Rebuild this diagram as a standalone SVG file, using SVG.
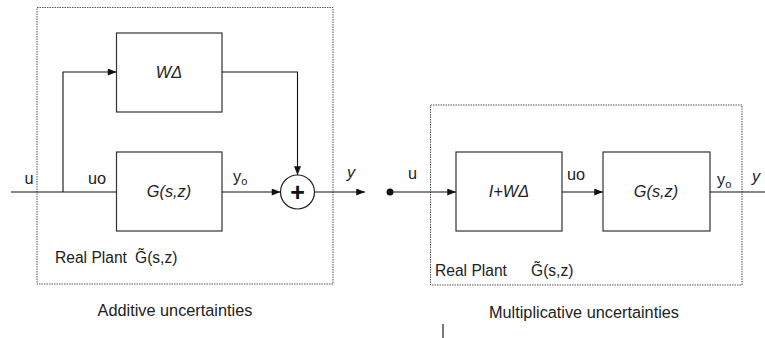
<svg xmlns="http://www.w3.org/2000/svg" width="765" height="338" viewBox="0 0 765 338">
<defs>
<marker id="arr" viewBox="0 0 10 8" refX="10" refY="4" markerWidth="10" markerHeight="7" markerUnits="userSpaceOnUse" orient="auto">
<path d="M0,0 L10,4 L0,8 z" fill="#111"/>
</marker>
</defs>
<style>
.frame{fill:none;stroke:#555;stroke-width:1;stroke-dasharray:1.5,1}
.blk{fill:#fff;stroke:#333;stroke-width:1.2}
.ln{fill:none;stroke:#111;stroke-width:1.1}
.t{font-family:"Liberation Sans",Arial,sans-serif;font-size:16.3px;fill:#222}
.rp{font-size:15.6px}
.it{font-style:italic}
.sub{font-size:11px}
</style>
<rect width="765" height="338" fill="#fff"/>
<g id="additive-frame">
<rect class="frame" x="37" y="7.5" width="296" height="276.5"/>
<text class="t rp" x="55" y="263">Real Plant</text>
<text class="t rp" x="135" y="263">G&#x303;(s,z)</text>
<text class="t" x="175" y="316" text-anchor="middle">Additive uncertainties</text>
</g>
<g id="multiplicative-frame">
<rect class="frame" x="430.5" y="105" width="311.5" height="180"/>
<text class="t rp" x="435" y="276">Real Plant</text>
<text class="t rp" x="531" y="276">G&#x303;(s,z)</text>
<text class="t" x="584" y="318" text-anchor="middle">Multiplicative uncertainties</text>
</g>
<g id="node-wdelta">
<rect class="blk" x="116.5" y="33" width="105.5" height="79"/>
<text class="t it" x="169" y="78" text-anchor="middle">W&#x394;</text>
</g>
<g id="node-g-left">
<rect class="blk" x="116.5" y="152" width="105.5" height="79"/>
<text class="t it" x="169" y="197" text-anchor="middle">G(s,z)</text>
</g>
<g id="node-sum">
<circle cx="297.5" cy="192" r="17" fill="#fff" stroke="#222" stroke-width="1.2"/>
<text x="297.5" y="200.5" text-anchor="middle" style="font-family:'Liberation Sans',Arial,sans-serif;font-size:25px;font-weight:bold;fill:#111">+</text>
</g>
<g id="node-iwdelta">
<rect class="blk" x="456" y="152" width="106" height="79"/>
<text class="t it" x="509" y="197" text-anchor="middle">I+W&#x394;</text>
</g>
<g id="node-g-right">
<rect class="blk" x="603" y="152" width="107" height="79"/>
<text class="t it" x="656" y="197" text-anchor="middle">G(s,z)</text>
</g>
<g id="connectors">
<line class="ln" x1="11" y1="192" x2="116.5" y2="192"/>
<polyline class="ln" points="63,192 63,72 116.5,72" marker-end="url(#arr)"/>
<polyline class="ln" points="222,72 297.5,72 297.5,175" marker-end="url(#arr)"/>
<line class="ln" x1="222" y1="192" x2="280.5" y2="192" marker-end="url(#arr)"/>
<line class="ln" x1="314.5" y1="192" x2="365" y2="192" marker-end="url(#arr)"/>
<circle cx="390" cy="192" r="3.5" fill="#111"/>
<line class="ln" x1="390" y1="192" x2="456" y2="192" marker-end="url(#arr)"/>
<line class="ln" x1="562" y1="192" x2="603" y2="192" marker-end="url(#arr)"/>
<line class="ln" x1="710" y1="192" x2="765" y2="192"/>
<line x1="443" y1="324" x2="443" y2="338" stroke="#222" stroke-width="1.2"/>
</g>
<g id="labels">
<text class="t" x="29" y="184" text-anchor="middle">u</text>
<text class="t" x="97" y="184" text-anchor="middle">uo</text>
<text class="t" x="233" y="182">y<tspan class="sub" dy="3">o</tspan></text>
<text class="t it" x="347" y="178">y</text>
<text class="t" x="408" y="179">u</text>
<text class="t" x="567" y="180">uo</text>
<text class="t" x="717" y="185">y<tspan class="sub" dy="3">o</tspan></text>
<text class="t it" x="752" y="182">y</text>
</g>
</svg>
